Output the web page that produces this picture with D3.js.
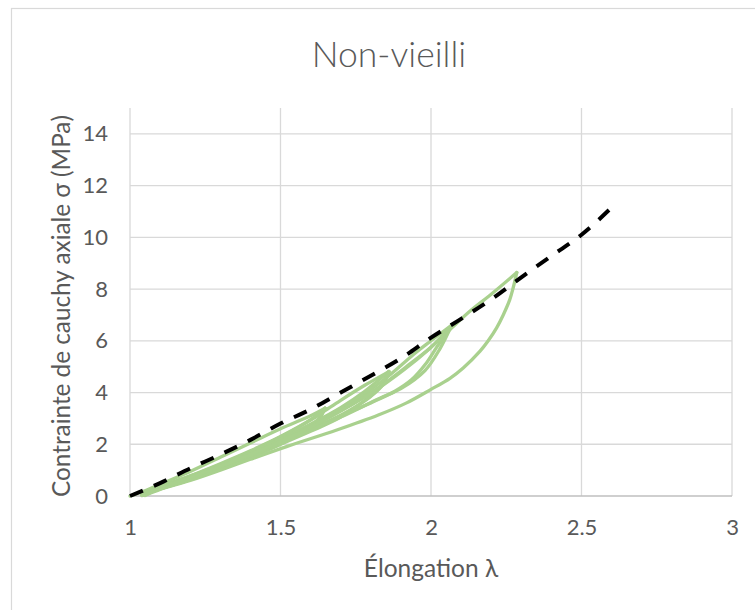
<!DOCTYPE html>
<html>
<head>
<meta charset="utf-8">
<script src="https://cdn.jsdelivr.net/npm/d3@7"></script>
<style>
  html, body { margin: 0; padding: 0; background: #fff; }
  svg { display: block; }
  text { font-family: Lato, "Open Sans", sans-serif; fill: #595959; }
</style>
</head>
<body>
<svg id="chart" width="755" height="610"></svg>
<script>
// ---------- DATA ----------
const chartTitle = "Non-vieilli";
const xTitle = "Élongation λ";
const yTitle = "Contrainte de cauchy axiale σ (MPa)";
const xTicks = [1, 1.5, 2, 2.5, 3];
const yTicks = [0, 2, 4, 6, 8, 10, 12, 14];

// dashed model curve (λ, σ)
const modelLambda = [1.0, 1.1, 1.2, 1.3, 1.4, 1.5, 1.6, 1.7, 1.8, 1.9, 2.0, 2.1, 2.2, 2.3, 2.4, 2.5, 2.6];
const modelSigma  = [0, 0.5, 1.07, 1.6, 2.17, 2.8, 3.35, 4.0, 4.65, 5.32, 6.12, 6.85, 7.6, 8.45, 9.28, 10.1, 11.15];

// experimental cyclic curve, segment by segment [λ, σ]
const load1    = [[1.0,0],[1.05,0.2],[1.1,0.45],[1.2,0.95],[1.3,1.5],[1.4,2.05],[1.5,2.6],[1.6,3.1],[1.648,3.39]];
const unload1  = [[1.648,3.39],[1.63,3.0],[1.6,2.7],[1.55,2.35],[1.5,2.05],[1.4,1.55],[1.3,1.08],[1.2,0.66],[1.1,0.3],[1.04,0.05]];
const reload1  = [[1.04,0.05],[1.1,0.36],[1.2,0.78],[1.3,1.25],[1.4,1.75],[1.5,2.3],[1.6,2.95],[1.648,3.39]];
const unload1b = [[1.648,3.39],[1.62,2.9],[1.58,2.55],[1.5,2.0],[1.4,1.5],[1.3,1.05],[1.2,0.63],[1.1,0.28],[1.04,0.04]];
const load2    = [[1.04,0.04],[1.1,0.35],[1.2,0.77],[1.3,1.22],[1.4,1.72],[1.5,2.28],[1.6,2.93],[1.648,3.3],[1.7,3.7],[1.78,4.28],[1.86,4.81]];
const unload2  = [[1.86,4.81],[1.84,4.3],[1.8,3.85],[1.75,3.45],[1.7,3.12],[1.6,2.55],[1.5,2.05],[1.4,1.55],[1.3,1.08],[1.2,0.65],[1.1,0.28],[1.04,0.03]];
const reload2  = [[1.04,0.03],[1.1,0.34],[1.2,0.75],[1.3,1.2],[1.4,1.68],[1.5,2.2],[1.6,2.78],[1.7,3.42],[1.78,4.05],[1.86,4.81]];
const unload2b = [[1.86,4.81],[1.83,4.2],[1.78,3.7],[1.7,3.05],[1.6,2.5],[1.5,2.0],[1.4,1.52],[1.3,1.05],[1.2,0.63],[1.1,0.27],[1.04,0.02]];
const load3    = [[1.04,0.02],[1.1,0.33],[1.2,0.74],[1.3,1.18],[1.4,1.66],[1.5,2.17],[1.6,2.74],[1.7,3.38],[1.8,4.12],[1.86,4.65],[1.95,5.55],[2.0,6.0],[2.069,6.61]];
const unload3  = [[2.069,6.61],[2.045,6.15],[2.024,5.84],[1.98,5.07],[1.936,4.5],[1.88,4.05],[1.8,3.6],[1.7,3.1],[1.6,2.6],[1.5,2.1],[1.4,1.6],[1.3,1.12],[1.2,0.68],[1.1,0.3],[1.05,0.05]];
const reload3  = [[1.05,0.05],[1.1,0.32],[1.2,0.72],[1.3,1.15],[1.4,1.62],[1.5,2.12],[1.6,2.68],[1.7,3.3],[1.83,4.23],[1.94,5.2],[2.0,5.75],[2.069,6.61]];
const unload3b = [[2.069,6.61],[2.03,5.7],[1.98,4.85],[1.9,4.15],[1.83,3.78],[1.7,3.05],[1.6,2.55],[1.5,2.05],[1.4,1.55],[1.3,1.08],[1.2,0.65],[1.1,0.28],[1.05,0.04]];
const load4    = [[1.05,0.04],[1.1,0.31],[1.2,0.7],[1.3,1.13],[1.4,1.6],[1.5,2.1],[1.6,2.66],[1.7,3.28],[1.83,4.2],[1.94,5.15],[2.0,5.75],[2.069,6.5],[2.13,7.15],[2.2,7.8],[2.285,8.64]];
const unload4  = [[2.285,8.64],[2.273,8.05],[2.262,7.6],[2.24,7.0],[2.218,6.5],[2.19,6.0],[2.163,5.6],[2.107,4.95],[2.063,4.55],[2.0,4.12],[1.919,3.6],[1.825,3.13],[1.687,2.55],[1.52,1.91],[1.4,1.42],[1.3,1.0],[1.2,0.6],[1.1,0.25],[1.05,0.02]];

const segments = [load1, unload1, reload1, unload1b, load2, unload2, reload2, unload2b,
                  load3, unload3, reload3, unload3b, load4, unload4];

// ---------- LAYOUT ----------
const svg = d3.select("#chart");
const plot = { left: 130, right: 732, top: 108, bottom: 496 };

const x = d3.scaleLinear().domain([1, 3]).range([plot.left, plot.right]);
const y = d3.scaleLinear().domain([0, 15]).range([plot.bottom, plot.top]);

// chart border (extends beyond the visible frame on right/bottom)
svg.append("rect")
  .attr("x", 11.5).attr("y", 8.5)
  .attr("width", 900).attr("height", 800)
  .attr("fill", "#fff").attr("stroke", "#d9d9d9").attr("stroke-width", 1.2);

// gridlines
const grid = svg.append("g");
grid.selectAll("line.h").data(yTicks.filter(d => d > 0)).join("line")
  .attr("x1", plot.left).attr("x2", plot.right)
  .attr("y1", d => y(d)).attr("y2", d => y(d))
  .attr("stroke", "#d9d9d9").attr("stroke-width", 1.3);
grid.selectAll("line.v").data(xTicks).join("line")
  .attr("y1", plot.top).attr("y2", plot.bottom)
  .attr("x1", d => x(d)).attr("x2", d => x(d))
  .attr("stroke", "#d9d9d9").attr("stroke-width", 1.3);

// x axis line
svg.append("line")
  .attr("x1", plot.left).attr("x2", plot.right)
  .attr("y1", y(0)).attr("y2", y(0))
  .attr("stroke", "#bfbfbf").attr("stroke-width", 1.5);

// axes labels via d3 axes (domain & ticks hidden)
const xAxis = svg.append("g")
  .attr("transform", `translate(0,${plot.bottom})`)
  .call(d3.axisBottom(x).tickValues(xTicks).tickFormat(d3.format("")).tickSize(0).tickPadding(23));
const yAxis = svg.append("g")
  .attr("transform", `translate(${plot.left},0)`)
  .call(d3.axisLeft(y).tickValues(yTicks).tickFormat(d3.format("")).tickSize(0).tickPadding(22));
[xAxis, yAxis].forEach(a => {
  a.select(".domain").remove();
  a.selectAll("text").attr("font-family", "Lato, 'Open Sans', sans-serif")
    .attr("font-size", 22).attr("fill", "#595959");
});

// experimental curves
const line = d3.line().x(d => x(d[0])).y(d => y(d[1])).curve(d3.curveCatmullRom.alpha(0.5));
svg.append("g").selectAll("path").data(segments).join("path")
  .attr("d", line)
  .attr("fill", "none")
  .attr("stroke", "#a9d18e")
  .attr("stroke-width", 3.3)
  .attr("stroke-linejoin", "round")
  .attr("stroke-linecap", "round");

// dashed model
const modelPts = modelLambda.map((l, i) => [l, modelSigma[i]]);
svg.append("path")
  .datum(modelPts)
  .attr("d", d3.line().x(d => x(d[0])).y(d => y(d[1])).curve(d3.curveMonotoneX))
  .attr("fill", "none")
  .attr("stroke", "#000")
  .attr("stroke-width", 4)
  .attr("stroke-dasharray", "14,12");

// title
svg.append("text")
  .attr("x", 389).attr("y", 67)
  .attr("text-anchor", "middle")
  .attr("font-size", 35.5).attr("font-weight", 300)
  .text(chartTitle);

// axis titles
svg.append("text")
  .attr("x", x(2)).attr("y", 577)
  .attr("text-anchor", "middle")
  .attr("font-size", 24.5)
  .text(xTitle);

svg.append("text")
  .attr("transform", `translate(70,${306}) rotate(-90)`)
  .attr("text-anchor", "middle")
  .attr("font-size", 24.3)
  .text(yTitle);
</script>
</body>
</html>
